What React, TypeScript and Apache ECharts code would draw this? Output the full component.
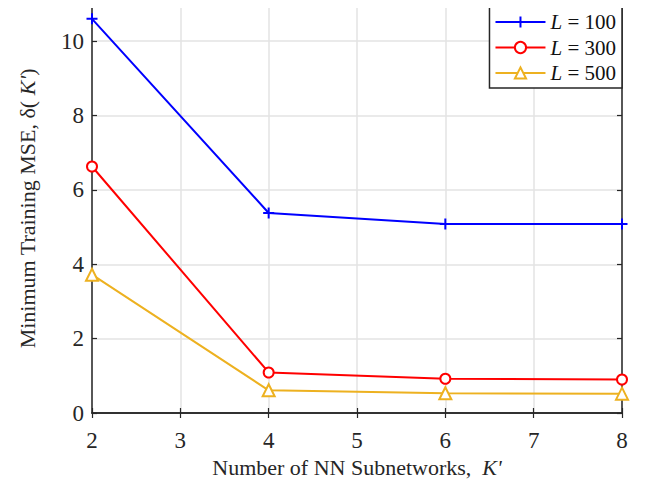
import React, { useEffect, useRef } from "react";
import * as echarts from "echarts";

const xValues = [2, 4, 6, 8];
const seriesLabels = ["100", "300", "500"];
const mse100 = [10.6, 5.38, 5.08, 5.08];
const mse300 = [6.63, 1.09, 0.92, 0.9];
const mse500 = [3.72, 0.61, 0.53, 0.52];
const colors = ["#0000ff", "#ff0000", "#EDB120"];
const symbols = ["path://M5,0 L5,10 M0,5 L10,5", "emptyCircle", "emptyTriangle"];

const FONT = "'Liberation Serif', 'Times New Roman', Times, serif";

export default function App() {
  const ref = useRef<HTMLDivElement>(null);
  useEffect(() => {
    if (!ref.current) return;
    const chart = echarts.init(ref.current, null, { renderer: "svg" });
    const data = [mse100, mse300, mse500];
    const axisLine = { show: true, lineStyle: { color: "#262626", width: 1.5 } };
    const tick = { show: true, inside: true, length: 5, lineStyle: { color: "#262626", width: 1.2 } };
    chart.setOption({
      animation: false,
      textStyle: { fontFamily: FONT },
      grid: { left: 92, right: 27, top: 4, bottom: 67, outerBoundsMode: "none", containLabel: false },
      legend: {
        right: 27,
        top: 4,
        orient: "vertical",
        backgroundColor: "#fff",
        borderColor: "#262626",
        borderWidth: 1.5,
        borderRadius: 0,
        padding: [7, 6, 4, 5],
        itemGap: 3.5,
        itemWidth: 50,
        itemHeight: 14,
        data: seriesLabels.map((l) => "L = " + l),
        formatter: (name: string) => "{i|L} = " + name.slice(4),
        textStyle: {
          fontFamily: FONT,
          fontSize: 21,
          color: "#111",
          lineHeight: 22,
          rich: { i: { fontStyle: "italic", fontFamily: FONT, fontSize: 21, lineHeight: 22 } },
        },
      },
      xAxis: [
        {
          type: "value",
          min: 2,
          max: 8,
          interval: 1,
          axisLine,
          axisTick: tick,
          splitLine: { show: true, lineStyle: { color: "#e3e3e3", width: 1.5 } },
          axisLabel: { fontFamily: FONT, fontSize: 23, color: "#262626", margin: 16 },
          name: "Number of NN Subnetworks,  {i|K'}",
          nameLocation: "middle",
          nameGap: 43,
          nameTextStyle: {
            fontFamily: FONT,
            fontSize: 22,
            color: "#262626",
            rich: { i: { fontStyle: "italic", fontFamily: FONT, fontSize: 22 } },
          },
        },
        {
          type: "value",
          position: "top",
          min: 2,
          max: 8,
          interval: 1,
          axisLine,
          axisTick: tick,
          splitLine: { show: false },
          axisLabel: { show: false },
        },
      ],
      yAxis: [
        {
          type: "value",
          min: 0,
          max: 11,
          interval: 2,
          axisLine,
          axisTick: tick,
          splitLine: { show: true, lineStyle: { color: "#e3e3e3", width: 1.5 } },
          axisLabel: { fontFamily: FONT, fontSize: 23, color: "#262626", margin: 8, showMaxLabel: false },
          name: "Minimum Training MSE, δ( {i|K'})",
          nameLocation: "middle",
          nameRotate: 90,
          nameGap: 54,
          nameTextStyle: {
            fontFamily: FONT,
            fontSize: 22,
            color: "#262626",
            rich: { i: { fontStyle: "italic", fontFamily: FONT, fontSize: 22 } },
          },
        },
        {
          type: "value",
          position: "right",
          min: 0,
          max: 11,
          interval: 2,
          axisLine,
          axisTick: tick,
          splitLine: { show: false },
          axisLabel: { show: false },
        },
      ],
      series: seriesLabels.map((l, i) => ({
        name: "L = " + l,
        type: "line",
        data: xValues.map((x, j) => [x, data[i][j]]),
        symbol: symbols[i],
        symbolSize: i === 0 ? 11 : i === 1 ? 10 : 12,
        showSymbol: true,
        lineStyle: { color: colors[i], width: 2 },
        itemStyle: { color: colors[i], borderColor: colors[i], borderWidth: 2 },
        z: 3 - i,
      })),
    });
    return () => chart.dispose();
  }, []);
  return <div ref={ref} style={{ width: 649, height: 480, marginLeft: -8, marginTop: -8 }} />;
}
